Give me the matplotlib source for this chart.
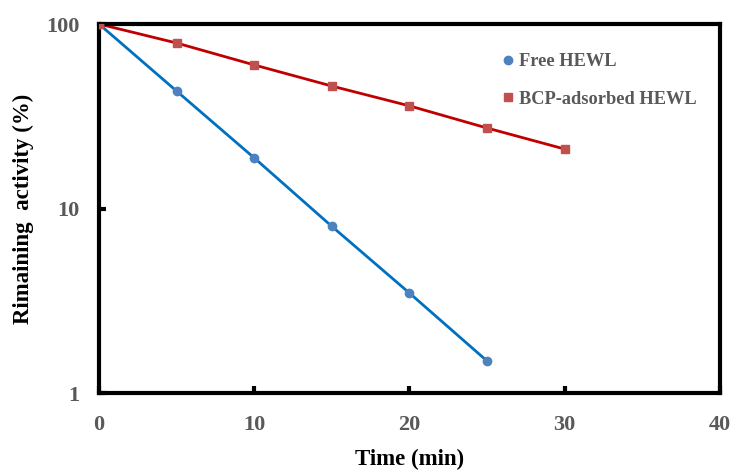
import matplotlib.pyplot as plt
from matplotlib.ticker import FixedLocator, FixedFormatter, NullLocator

# Data
time_free = [0, 5, 10, 15, 20, 25]
activity_free = [100, 43.3, 18.8, 8.0, 3.48, 1.49]

time_bcp = [0, 5, 10, 15, 20, 25, 30]
activity_bcp = [100, 78.9, 60.0, 46.1, 36.0, 27.3, 21.0]

x_ticks = [0, 10, 20, 30, 40]
y_ticks = [1, 10, 100]
y_tick_labels = ['1', '10', '100']

SERIF = ['Liberation Serif', 'DejaVu Serif']
TICK_GREY = '#595959'

fig = plt.figure(figsize=(7.3, 4.71), dpi=100)
ax = fig.add_axes([0.1356, 0.1656, 0.8507, 0.7834])

# Lines first, markers on top
ax.plot(time_free, activity_free, color='#0070C0', linewidth=2, zorder=2)
ax.plot(time_bcp, activity_bcp, color='#C00000', linewidth=2, zorder=2)
ax.plot(time_free, activity_free, 'o', color='#4F81BD', markersize=6,
        linestyle='none', label='Free HEWL', zorder=3)
ax.plot(time_bcp, activity_bcp, 's', color='#C0504D', markersize=6,
        linestyle='none', label='BCP-adsorbed HEWL', zorder=3)

ax.set_yscale('log')
ax.set_xlim(0, 40)
ax.set_ylim(1, 100)

ax.xaxis.set_major_locator(FixedLocator(x_ticks))
ax.yaxis.set_major_locator(FixedLocator(y_ticks))
ax.yaxis.set_major_formatter(FixedFormatter(y_tick_labels))
ax.yaxis.set_minor_locator(NullLocator())

for spine in ax.spines.values():
    spine.set_linewidth(3)
    spine.set_color('black')

ax.tick_params(axis='both', direction='in', length=5, width=3, color='black',
               labelcolor=TICK_GREY, labelsize=16)
ax.tick_params(axis='x', pad=16)
ax.tick_params(axis='y', pad=14)
for lbl in ax.get_xticklabels() + ax.get_yticklabels():
    lbl.set_fontfamily(SERIF)
    lbl.set_fontweight('bold')

ax.set_xlabel('Time (min)', fontsize=16.5, fontweight='bold', family=SERIF, labelpad=10)
ax.set_ylabel('Rimaining  activity (%)', fontsize=16.5, fontweight='bold', family=SERIF, labelpad=9)

leg = ax.legend(loc='upper left', bbox_to_anchor=(0.62, 0.965), frameon=False,
                handlelength=0.8, handletextpad=0.2, labelspacing=1.1,
                prop={'family': SERIF, 'weight': 'bold', 'size': 13.2})
for txt in leg.get_texts():
    txt.set_color(TICK_GREY)

fig.savefig('out.png', dpi=100)
